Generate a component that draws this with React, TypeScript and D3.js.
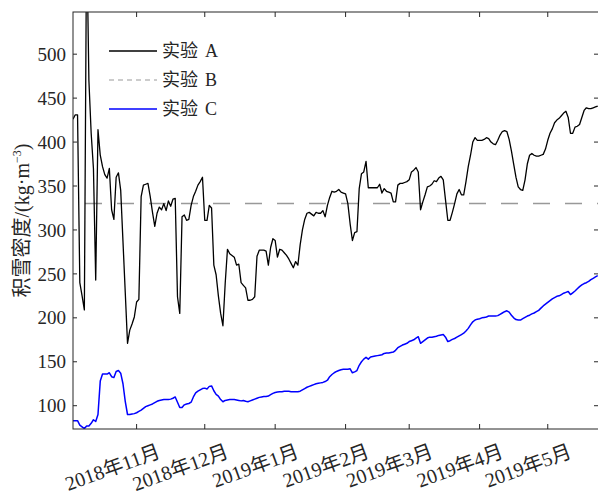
import React from "react";
import * as d3 from "d3";

// Daily series starting 2018-10-04
const startDate = new Date(2018, 9, 4);
const endDate = new Date(2019, 4, 24);

const valuesA = [
  426, 431, 431, 240, 225, 209, 640, 470, 410, 370, 243, 414, 385, 372, 363, 359, 370, 323, 312, 360,
  365, 345, 287, 229, 171, 186, 193, 201, 218, 221, 338, 351, 352, 353, 338, 320, 304, 319, 326, 323,
  330, 322, 333, 327, 335, 336, 224, 205, 315, 317, 311, 312, 328, 338, 344, 351, 355, 360, 311, 311,
  328, 325, 260, 249, 225, 205, 191, 239, 278, 273, 271, 269, 260, 261, 240, 237, 234, 220, 220, 221,
  224, 270, 277, 277, 277, 276, 260, 280, 290, 288, 269, 278, 277, 274, 271, 267, 262, 257, 264, 260,
  283, 300, 312, 319, 320, 318, 316, 320, 319, 319, 322, 315, 328, 337, 344, 343, 344, 346, 343, 342,
  341, 330, 307, 288, 297, 298, 347, 364, 366, 378, 348, 348, 348, 348, 348, 352, 342, 347, 344, 343,
  342, 332, 332, 351, 353, 353, 354, 355, 357, 366, 368, 371, 366, 323, 332, 340, 349, 350, 352, 356,
  355, 359, 361, 357, 334, 311, 311, 320, 330, 341, 346, 340, 340, 355, 372, 385, 400, 405, 402, 402,
  402, 403, 405, 404, 400, 398, 397, 402, 408, 412, 413, 412, 403, 390, 375, 360, 349, 346, 345, 357,
  375, 385, 387, 385, 384, 384, 385, 386, 392, 402, 410, 415, 422, 425, 427, 430, 433, 435, 428, 410,
  410, 417, 418, 420, 428, 436, 439, 438, 438, 439, 440, 441,
];

const valuesB = 330;

const valuesC = [
  83, 83, 83, 78, 76, 74, 77, 77, 80, 84, 82, 90, 128, 136, 136, 136, 137.5, 133, 132, 139,
  140, 137, 125, 105, 90, 90, 90.5, 91, 92, 93.5, 95, 97, 99, 100, 101, 102, 103.5, 105, 106, 106.5,
  107, 107, 107, 107.5, 108.5, 110, 104, 98, 98, 101, 102, 102.5, 104, 110, 114.5, 116.5, 118, 119.5, 120, 119,
  122, 122.5, 117, 113, 111, 107, 104.5, 106, 106.5, 107, 107, 107, 106.5, 106, 105.5, 106, 105, 104.5, 105.5, 106.5,
  107.5, 108.5, 109.5, 110, 110.5, 110.5, 111, 112.5, 114, 115, 115.5, 116, 116, 116.5, 116.5, 116.5, 116, 116, 116, 116,
  116.5, 118, 119.5, 121, 122, 123, 124, 125, 125.5, 126, 126.5, 127.5, 129, 133, 135.5, 137.5, 139, 140, 141, 141.5,
  141.5, 141.5, 142, 137.5, 138.5, 140, 146, 150, 153, 155, 153, 155.5, 156, 156.5, 157, 157.5, 158, 159.5, 160, 160,
  160.5, 161, 163, 166, 167.5, 169, 170, 171, 173, 174, 175, 177, 178.5, 171, 173, 175, 177, 178, 178, 178.5,
  179, 180, 180.5, 181, 178, 173, 174, 175.5, 176.5, 178, 179.5, 181, 182.5, 185, 188, 192, 195.5, 197.5, 198.5, 199,
  200, 200.5, 201, 202, 202, 202, 202, 202.5, 204, 205.5, 207, 208, 206.5, 203, 200, 198, 197.5, 197.5, 199, 200.5,
  202, 203, 204.5, 205.5, 207, 208.5, 211, 213.5, 215.5, 217.5, 219.5, 221.5, 223, 224.5, 225, 226.5, 228, 229, 230, 226.5,
  228.5, 230.5, 233, 235.5, 237.5, 239, 240, 241.5, 243.5, 245, 246.5, 248,
];

const yTicks = [100, 150, 200, 250, 300, 350, 400, 450, 500];
const xTicks = [
  new Date(2018, 10, 1), new Date(2018, 11, 1), new Date(2019, 0, 1), new Date(2019, 1, 1),
  new Date(2019, 2, 1), new Date(2019, 3, 1), new Date(2019, 4, 1),
];
const legendNames = ["实验", "实验", "实验"];
const legendLetters = ["A", "B", "C"];

const W = 598;
const H = 497;
const left = 73;
const right = 600;
const top = 12;
const bottom = 429;

const FONT = "'Liberation Serif', 'Times New Roman', 'Noto Sans CJK SC', serif";
const AXIS = "#262626";

export default function App() {
  const x = d3.scaleTime().domain([startDate, endDate]).range([left, right]);
  const y = d3.scaleLinear().domain([73.5, 548]).range([bottom, top]);
  const dateOf = (i: number) => d3.timeDay.offset(startDate, i);

  const line = d3
    .line<number>()
    .x((_, i) => x(dateOf(i)))
    .y((d) => y(d));

  const fmt = d3.timeFormat("%Y年%-m月");

  return (
    <svg width={W} height={H} style={{ position: "absolute", left: 0, top: 0, background: "#fff" }}>
      <defs>
        <clipPath id="plotClip">
          <rect x={left} y={top} width={right - left} height={bottom - top} />
        </clipPath>
      </defs>
      <rect x={0} y={0} width={W} height={H} fill="#fff" />
      <g clipPath="url(#plotClip)">
        <line
          x1={left}
          x2={right}
          y1={y(valuesB)}
          y2={y(valuesB)}
          stroke="#999999"
          strokeWidth={1.5}
          strokeDasharray="17,15"
          strokeDashoffset={-12}
        />
        <path d={line(valuesA) || ""} fill="none" stroke="#000" strokeWidth={1.3} strokeLinejoin="round" />
        <path d={line(valuesC) || ""} fill="none" stroke="#0000ff" strokeWidth={1.5} strokeLinejoin="round" />
      </g>

      {/* frame */}
      <rect x={left} y={top} width={right - left} height={bottom - top} fill="none" stroke={AXIS} strokeWidth={1} />

      {/* y ticks */}
      {yTicks.map((t) => (
        <g key={t}>
          <line x1={left} x2={left + 4} y1={y(t)} y2={y(t)} stroke={AXIS} />
          <line x1={right - 6} x2={right - 1} y1={y(t)} y2={y(t)} stroke={AXIS} />
          <text
            x={left - 7}
            y={y(t)}
            dy="0.35em"
            textAnchor="end"
            fontFamily={FONT}
            fontSize={19}
            fill={AXIS}
          >
            {t}
          </text>
        </g>
      ))}

      {/* x ticks */}
      {xTicks.map((t) => (
        <g key={+t}>
          <line x1={x(t)} x2={x(t)} y1={bottom} y2={bottom - 5} stroke={AXIS} />
          <line x1={x(t)} x2={x(t)} y1={top} y2={top + 5} stroke={AXIS} />
          <text
            transform={`translate(${x(t) + 25},${457}) rotate(-20)`}
            textAnchor="end"
            fontFamily={FONT}
            fontSize={20}
            fill={AXIS}
          >
            {fmt(t)}
          </text>
        </g>
      ))}

      {/* y label */}
      <text
        transform={`translate(29,${(top + bottom) / 2}) rotate(-90)`}
        textAnchor="middle"
        fontFamily={FONT}
        fontSize={20}
        fill={AXIS}
      >
        积雪密度/(kg·m
        <tspan dy={-8} fontSize={12}>−3</tspan>
        <tspan dy={8}>)</tspan>
      </text>

      {/* legend */}
      {legendNames.map((lab, i) => {
        const ly = 51 + i * 29;
        return (
          <g key={i}>
            {i === 0 && <line x1={109} x2={157} y1={ly} y2={ly} stroke="#000" strokeWidth={1.3} />}
            {i === 1 && (
              <line x1={109} x2={157} y1={ly} y2={ly} stroke="#999999" strokeWidth={1.2} strokeDasharray="5,4" />
            )}
            {i === 2 && <line x1={109} x2={157} y1={ly} y2={ly} stroke="#0000ff" strokeWidth={1.5} />}
            <text x={162} y={ly} dy="0.35em" fontFamily={FONT} fontSize={18} fill={AXIS}>
              {lab}
              <tspan x={205}>{legendLetters[i]}</tspan>
            </text>
          </g>
        );
      })}
    </svg>
  );
}
